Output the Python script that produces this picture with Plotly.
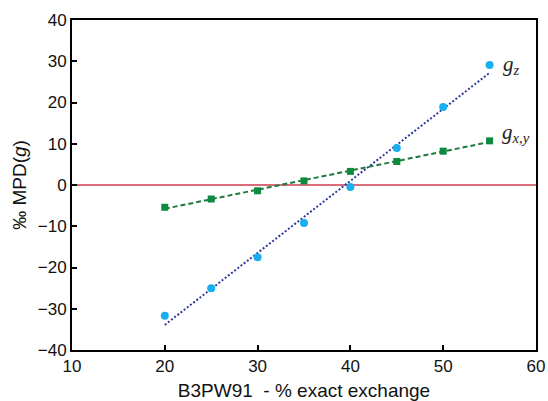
import numpy as np
import plotly.graph_objects as go

exchange = [20, 25, 30, 35, 40, 45, 50, 55]
g_z = [-31.7, -25.0, -17.5, -9.2, -0.5, 9.0, 18.9, 29.1]
g_xy = [-5.4, -3.4, -1.4, 1.0, 3.3, 5.7, 8.2, 10.7]

x_ticks = [10, 20, 30, 40, 50, 60]
y_ticks = [-40, -30, -20, -10, 0, 10, 20, 30, 40]

xs = np.array(exchange, dtype=float)
fit_z = np.polyval(np.polyfit(xs, g_z, 1), xs)
fit_xy = np.polyval(np.polyfit(xs, g_xy, 1), xs)

fig = go.Figure()
fig.add_trace(go.Scatter(x=[10, 60], y=[0, 0], mode="lines",
                         line=dict(color="#cc3a4e", width=1.3), hoverinfo="skip"))
fig.add_trace(go.Scatter(x=[xs[0], xs[-1]], y=[fit_z[0], fit_z[-1]], mode="lines",
                         line=dict(color="#2e3a9e", width=2, dash="2px,2px")))
fig.add_trace(go.Scatter(x=[xs[0], xs[-1]], y=[fit_xy[0], fit_xy[-1]], mode="lines",
                         line=dict(color="#1f7a3c", width=2, dash="5px,3px")))
fig.add_trace(go.Scatter(x=exchange, y=g_z, mode="markers",
                         marker=dict(color="#19aef0", size=8, symbol="circle")))
fig.add_trace(go.Scatter(x=exchange, y=g_xy, mode="markers",
                         marker=dict(color="#0e8a3e", size=7, symbol="square")))

fig.add_annotation(x=56.2, y=29.0, text="<i>g<sub>z</sub></i>", showarrow=False,
                   xanchor="left", font=dict(family="Liberation Serif, serif", size=21, color="#222"))
fig.add_annotation(x=56.1, y=12.5, text="<i>g<sub>x,y</sub></i>", showarrow=False,
                   xanchor="left", font=dict(family="Liberation Serif, serif", size=21, color="#222"))

axis_common = dict(showline=True, linecolor="black", linewidth=2, mirror=True,
                   ticks="inside", ticklen=5, tickwidth=1.5, tickcolor="black",
                   showgrid=False, zeroline=False, automargin=False,
                   tickfont=dict(family="Liberation Sans, Arial, sans-serif", size=17, color="#111"))

fig.update_layout(
    width=548, height=401,
    margin=dict(l=72, r=12, t=20, b=51),
    paper_bgcolor="white", plot_bgcolor="white",
    showlegend=False,
    xaxis=dict(range=[10, 60], tickvals=x_ticks, **axis_common,
               title=dict(text="B3PW91  - % exact exchange", standoff=10,
                          font=dict(family="Liberation Sans, Arial, sans-serif", size=19, color="#111"))),
    yaxis=dict(range=[-40, 40], tickvals=y_ticks, **axis_common,
               title=dict(text="‰ MPD(<i>g</i>)", standoff=6,
                          font=dict(family="Liberation Sans, Arial, sans-serif", size=19, color="#111"))),
)

fig.write_html("out.html", config={"displayModeBar": False},
               post_script="document.body.style.margin='0';document.body.style.overflow='hidden';")
